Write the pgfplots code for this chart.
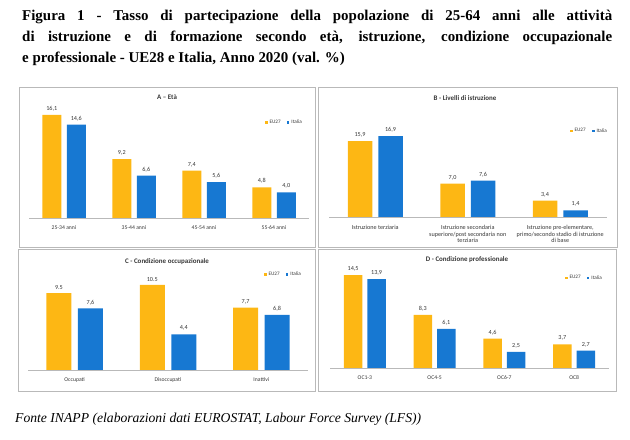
\documentclass[border=0pt]{standalone}
\usepackage{pgfplots}
\pgfplotsset{compat=1.18}
\usepackage{pgfplotstable}
\usepackage{fontspec}
\setmainfont{Liberation Serif}
\newfontfamily\calfont{Carlito}
\definecolor{eu}{RGB}{253,183,20}
\definecolor{it}{RGB}{23,120,210}
\definecolor{txt}{RGB}{55,55,55}

\pgfplotstableread{
x eu it eul itl
0 16.1 14.6 16,1 14,6
1 9.2 6.6 9,2 6,6
2 7.4 5.6 7,4 5,6
3 4.8 4.0 4,8 4,0
}\tabA
\pgfplotstableread{
x eu it eul itl
0 15.9 16.9 15,9 16,9
1 7.0 7.6 7,0 7,6
2 3.4 1.4 3,4 1,4
}\tabB
\pgfplotstableread{
x eu it eul itl
0 9.5 7.6 9.5 7,6
1 10.5 4.4 10.5 4,4
2 7.7 6.8 7,7 6,8
}\tabC
\pgfplotstableread{
x eu it eul itl
0 14.5 13.9 14,5 13,9
1 8.3 6.1 8,3 6,1
2 4.6 2.5 4,6 2,5
3 3.7 2.7 3,7 2,7
}\tabD

\pgfplotsset{
  panel/.style={
    scale only axis, anchor=south west, ymin=0, clip=false,
    axis y line=none, axis x line*=bottom,
    x axis line style={-, draw=gray!55, line width=0.7bp},
    xtick=data, xtick style={draw=none}, ytick=\empty,
    xticklabel style={font=\calfont\fontsize{5.7}{7}\selectfont, text=txt, align=center},
    nodes near coords, point meta=explicit symbolic,
    every node near coord/.append style={font=\calfont\fontsize{6.2}{7}\selectfont, text=txt, inner sep=2.2bp, yshift=1.2bp},
    legend style={draw=none, fill=none, font=\calfont\fontsize{5.2}{6}\selectfont, text=txt,
      legend columns=2, anchor=east, inner sep=0pt,
      /tikz/every even column/.append style={column sep=4bp}},
  },
  sq/.style={legend image code/.code={\path[##1] (0bp,-1.4bp) rectangle (2.8bp,1.4bp);}},
}

\begin{document}
\begin{tikzpicture}[x=1bp,y=1bp]
\path[use as bounding box] (0,0) rectangle (630,440);

% title
\node[anchor=base west, inner sep=0, font=\bfseries\fontsize{15}{20}\selectfont] at (22,419)
  {\makebox[590bp][s]{Figura 1 - Tasso di partecipazione della popolazione di 25-64 anni alle attività}};
\node[anchor=base west, inner sep=0, font=\bfseries\fontsize{15}{20}\selectfont] at (22,398)
  {\makebox[590bp][s]{di istruzione e di formazione secondo età, istruzione, condizione occupazionale}};
\node[anchor=base west, inner sep=0, font=\bfseries\fontsize{15}{20}\selectfont] at (22,377)
  {e professionale - UE28 e Italia, Anno 2020 (val. \%)};

% footer
\node[anchor=base west, inner sep=0, font=\itshape\fontsize{13.7}{16}\selectfont] at (15,17)
  {Fonte INAPP (elaborazioni dati EUROSTAT, Labour Force Survey (LFS))};

% frames
\draw[gray!55, line width=0.8bp] (19,193) rectangle (315,353);
\draw[gray!55, line width=0.8bp] (318,193) rectangle (617,353);
\draw[gray!55, line width=0.8bp] (18,49) rectangle (315,191);
\draw[gray!55, line width=0.8bp] (318,49) rectangle (616,191);

% panel titles
\node[font=\calfont\bfseries\fontsize{7}{8}\selectfont, text=txt] at (167,343) {A – Età};
\node[font=\calfont\bfseries\fontsize{7}{8}\selectfont, text=txt] at (465,342) {B - Livelli di istruzione};
\node[font=\calfont\bfseries\fontsize{7}{8}\selectfont, text=txt] at (167,178) {C - Condizione occupazionale};
\node[font=\calfont\bfseries\fontsize{7}{8}\selectfont, text=txt] at (467,180) {D - Condizione professionale};

% A
\begin{axis}[panel, at={(29bp,222bp)}, width=280bp, height=115.2bp,
  xmin=-0.5, xmax=3.5, ymax=18, ybar=5.5bp, bar width=19bp, sq,
  xticklabels={25-34 anni,35-44 anni,45-54 anni,55-64 anni},
  legend style={at={(0.982,0.826)}}]
\addplot[fill=eu, draw=none] table[x=x,y=eu,meta=eul]{\tabA};
\addplot[fill=it, draw=none] table[x=x,y=it,meta=itl]{\tabA};
\legend{EU27,Italia}
\end{axis}

% B
\begin{axis}[panel, at={(329bp,223bp)}, width=277.5bp, height=86bp,
  xmin=-0.5, xmax=2.5, ymax=18, ybar=6bp, bar width=24.5bp, sq,
  xticklabel style={font=\calfont\fontsize{6.2}{7}\selectfont},
  xticklabels={{Istruzione terziaria},{Istruzione secondaria\\superiore/post secondaria non\\terziaria},{Istruzione pre-elementare,\\primo/secondo stadio di istruzione\\di base}},
  legend style={at={(1.009,1.0)}}]
\addplot[fill=eu, draw=none] table[x=x,y=eu,meta=eul]{\tabB};
\addplot[fill=it, draw=none] table[x=x,y=it,meta=itl]{\tabB};
\legend{EU27,Italia}
\end{axis}

% C
\begin{axis}[panel, at={(28bp,70bp)}, width=280bp, height=97.2bp,
  xmin=-0.5, xmax=2.5, ymax=12, ybar=6.5bp, bar width=25bp, sq,
  xticklabels={Occupati,Disoccupati,Inattivi},
  legend style={at={(0.982,0.979)}}]
\addplot[fill=eu, draw=none] table[x=x,y=eu,meta=eul]{\tabC};
\addplot[fill=it, draw=none] table[x=x,y=it,meta=itl]{\tabC};
\legend{EU27,Italia}
\end{axis}

% D
\begin{axis}[panel, at={(330bp,72bp)}, width=279bp, height=102.4bp,
  xmin=-0.5, xmax=3.5, ymax=16, ybar=5bp, bar width=18.5bp, sq,
  xticklabels={OC1-3,OC4-5,OC6-7,OC8},
  legend style={at={(0.982,0.879)}}]
\addplot[fill=eu, draw=none] table[x=x,y=eu,meta=eul]{\tabD};
\addplot[fill=it, draw=none] table[x=x,y=it,meta=itl]{\tabD};
\legend{EU27,Italia}
\end{axis}
\end{tikzpicture}
\end{document}
